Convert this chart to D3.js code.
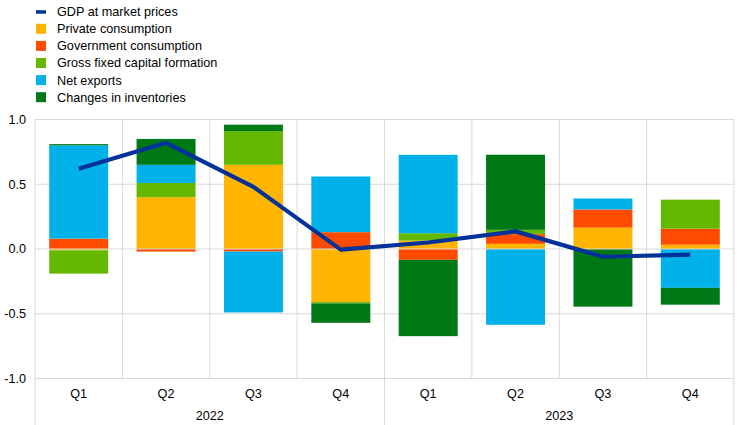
<!DOCTYPE html>
<html>
<head>
<meta charset="utf-8">
<script src="https://cdn.jsdelivr.net/npm/d3@7"></script>
<style>
  html, body { margin: 0; padding: 0; background: #fff; }
  svg { display: block; font-family: Arial, "Liberation Sans", sans-serif; }
</style>
</head>
<body>
<svg id="chart" width="743" height="425"></svg>
<script>
// ---- data ----
const quarters = ["Q1", "Q2", "Q3", "Q4", "Q1", "Q2", "Q3", "Q4"];
const years = ["2022", "2023"];
const seriesNames = ["Private consumption", "Government consumption", "Gross fixed capital formation", "Net exports", "Changes in inventories"];
const privateConsumption = [-0.01, 0.40, 0.65, -0.41, 0.065, 0.04, 0.165, 0.033];
const governmentConsumption = [0.08, -0.02, -0.02, 0.13, -0.083, 0.075, 0.14, 0.124];
const grossFixedCapital = [-0.18, 0.11, 0.26, -0.01, 0.057, 0.033, 0.0, 0.224];
const netExports = [0.72, 0.14, -0.47, 0.43, 0.605, -0.585, 0.085, -0.30];
const inventories = [0.01, 0.20, 0.05, -0.15, -0.59, 0.58, -0.445, -0.13];
const gdp = [0.62, 0.82, 0.48, -0.005, 0.05, 0.136, -0.06, -0.044];
const yTicks = [-1.0, -0.5, 0.0, 0.5, 1.0];

const colors = ["#FFB400", "#FF4B00", "#65B800", "#00B1EA", "#007816"];
const gdpColor = "#003299";
const gridColor = "#d9d9d9";
const textColor = "#000";
const fontSize = 12.67;

// ---- layout ----
const svg = d3.select("#chart");
const plotLeft = 35, plotRight = 734, plotTop = 119.5, plotBottom = 378.5, fullBottom = 425;

const keys = quarters.map((q, i) => years[Math.floor(i / 4)] + " " + q);
const rows = keys.map((k, i) => ({
  key: k,
  s0: privateConsumption[i], s1: governmentConsumption[i], s2: grossFixedCapital[i],
  s3: netExports[i], s4: inventories[i]
}));

const x = d3.scaleBand().domain(keys).range([plotLeft, plotRight]).padding(0);
const y = d3.scaleLinear().domain([-1, 1]).range([plotBottom, plotTop]);
const barW = x.bandwidth() * 0.675;

// gridlines (horizontal)
svg.append("g").selectAll("line").data(yTicks.filter(t => t !== 0)).join("line")
  .attr("x1", plotLeft).attr("x2", plotRight)
  .attr("y1", d => y(d)).attr("y2", d => y(d))
  .attr("stroke", gridColor).attr("stroke-width", 1);

// vertical separators
const sepG = svg.append("g");
keys.forEach((k, i) => {
  if (i === 0) return;
  const xx = x(k);
  const isYear = i % 4 === 0;
  sepG.append("line").attr("x1", xx).attr("x2", xx)
    .attr("y1", plotTop).attr("y2", isYear ? fullBottom : plotBottom)
    .attr("stroke", gridColor).attr("stroke-width", 1);
});
[plotLeft, plotRight].forEach(xx => {
  sepG.append("line").attr("x1", xx).attr("x2", xx)
    .attr("y1", plotTop).attr("y2", fullBottom)
    .attr("stroke", gridColor).attr("stroke-width", 1);
});

// stacked bars
const stack = d3.stack().keys(["s0", "s1", "s2", "s3", "s4"]).offset(d3.stackOffsetDiverging);
const stacked = stack(rows);
svg.append("g").selectAll("g").data(stacked).join("g")
  .attr("fill", (d, i) => colors[i])
  .selectAll("rect").data(d => d).join("rect")
  .attr("x", d => x(d.data.key) + (x.bandwidth() - barW) / 2)
  .attr("width", barW)
  .attr("y", d => y(Math.max(d[0], d[1])))
  .attr("height", d => Math.abs(y(d[0]) - y(d[1])));

// zero line on top of bars
svg.append("line").attr("x1", plotLeft).attr("x2", plotRight)
  .attr("y1", y(0)).attr("y2", y(0))
  .attr("stroke", gridColor).attr("stroke-width", 1);

// GDP line
const line = d3.line().x((d, i) => x(keys[i]) + x.bandwidth() / 2).y(d => y(d));
svg.append("path").datum(gdp).attr("d", line)
  .attr("fill", "none").attr("stroke", gdpColor).attr("stroke-width", 4.2)
  .attr("stroke-linejoin", "round");

// y axis labels
svg.append("g").selectAll("text").data(yTicks).join("text")
  .attr("x", 26).attr("y", d => y(d)).attr("dy", "0.35em")
  .attr("text-anchor", "end").attr("font-size", fontSize).attr("fill", textColor)
  .text(d => d3.format(".1f")(d).replace("\u2212", "-"));

// quarter labels
svg.append("g").selectAll("text").data(keys).join("text")
  .attr("x", d => x(d) + x.bandwidth() / 2).attr("y", 398)
  .attr("text-anchor", "middle").attr("font-size", fontSize).attr("fill", textColor)
  .text((d, i) => quarters[i]);

// year labels
svg.append("g").selectAll("text").data(years).join("text")
  .attr("x", (d, i) => (x(keys[i * 4]) + x(keys[i * 4 + 3]) + x.bandwidth()) / 2)
  .attr("y", 420)
  .attr("text-anchor", "middle").attr("font-size", fontSize).attr("fill", textColor)
  .text(d => d);

// legend
const legendItems = ["GDP at market prices"].concat(seriesNames);
const legendColors = [gdpColor].concat(colors);
const lg = svg.append("g");
legendItems.forEach((name, i) => {
  const cy = 11.7 + i * 17.1;
  if (i === 0) {
    lg.append("rect").attr("x", 36).attr("y", cy - 1.5).attr("width", 10).attr("height", 3.5).attr("fill", legendColors[i]);
  } else {
    lg.append("rect").attr("x", 36).attr("y", cy - 5).attr("width", 10).attr("height", 10).attr("fill", legendColors[i]);
  }
  lg.append("text").attr("x", 57).attr("y", cy).attr("dy", "0.35em")
    .attr("font-size", fontSize).attr("fill", textColor).text(name);
});
</script>
</body>
</html>
